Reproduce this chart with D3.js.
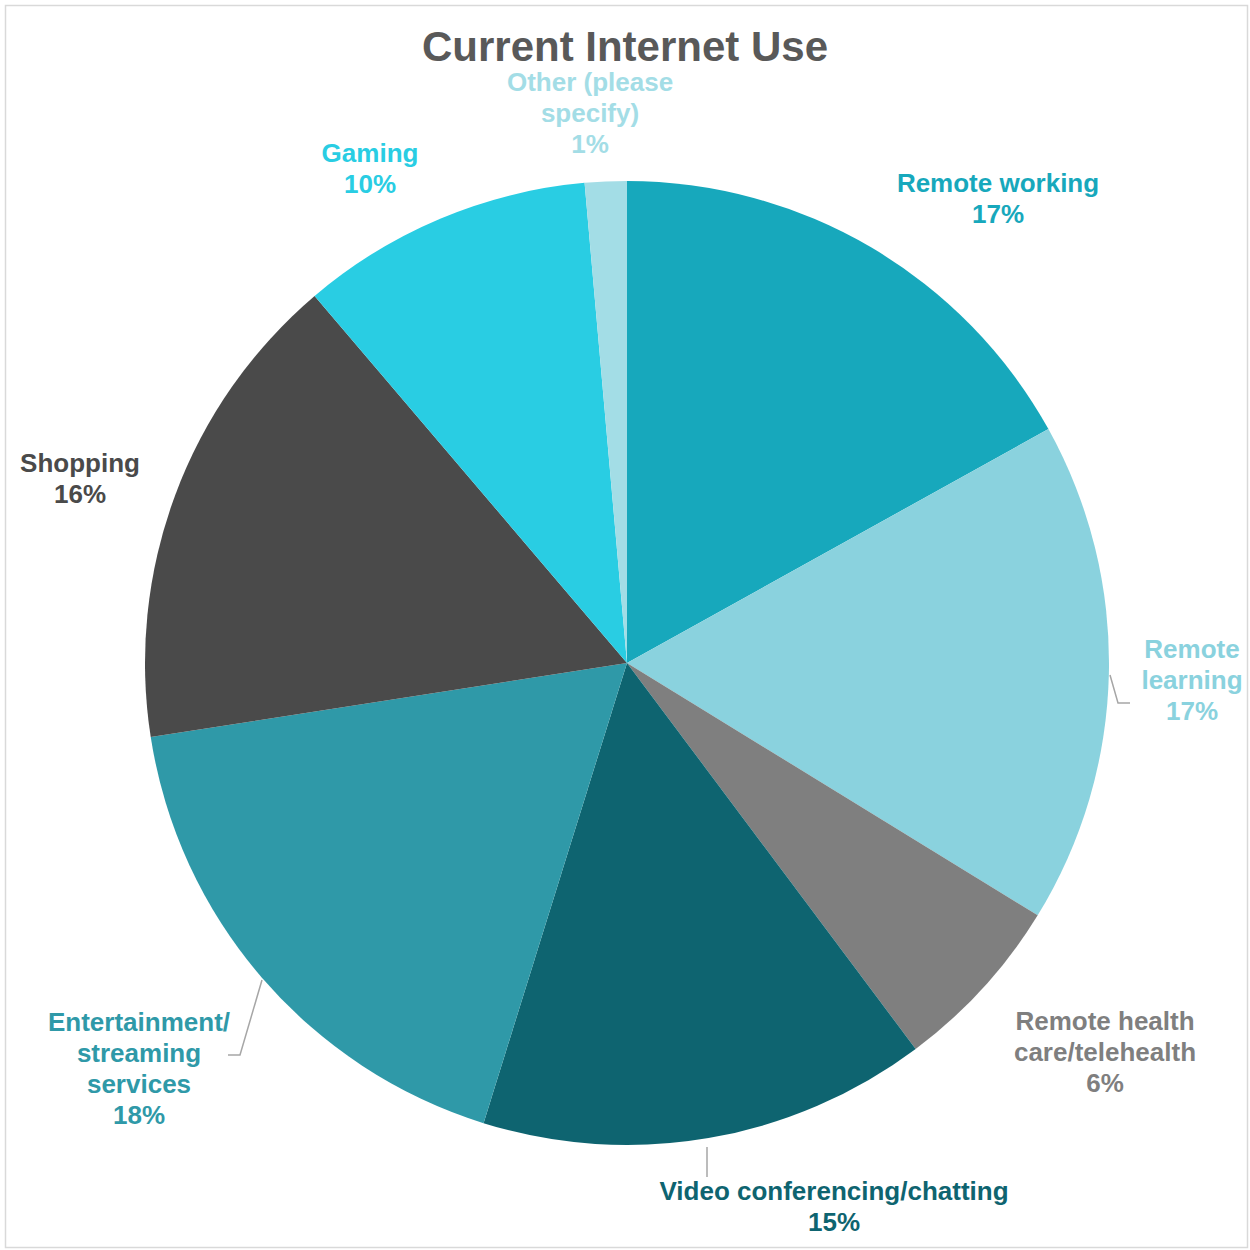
<!DOCTYPE html>
<html>
<head>
<meta charset="utf-8">
<script src="https://cdn.jsdelivr.net/npm/d3@7"></script>
<style>
  body { margin: 0; background: #fff; }
  text { font-family: "Liberation Sans", Arial, sans-serif; font-weight: bold; }
</style>
</head>
<body>
<svg id="chart"></svg>
<script>
// data (percent of respondents)
const categories = ["Remote working", "Remote learning", "Remote health care/telehealth",
  "Video conferencing/chatting", "Entertainment/ streaming services", "Shopping",
  "Gaming", "Other (please specify)"];
const values = [16.9, 16.8, 6.0, 15.0, 17.7, 16.2, 9.8, 1.4];
const shown = ["17%", "17%", "6%", "15%", "18%", "16%", "10%", "1%"];

// label lines as wrapped in the original
const labelLines = [
  ["Remote working"],
  ["Remote", "learning"],
  ["Remote health", "care/telehealth"],
  ["Video conferencing/chatting"],
  ["Entertainment/", "streaming", "services"],
  ["Shopping"],
  ["Gaming"],
  ["Other (please", "specify)"]
];

const colours = ["#17a8bc", "#8ad2de", "#7f7f7f", "#0e6470", "#2f99a8", "#4a4a4a", "#29cde3", "#a3dde6"];

// set the dimensions
const width = 1250, height = 1250;
const cx = 627, cy = 663, radius = 482;

// label centres (offset from pie centre), first line centre
const labelPos = [[371, -480], [565, -14], [478, 358], [207, 528], [-488, 359], [-547, -200], [-257, -510], [-37, -581]];
const lineH = 31;

const svg = d3.select("#chart")
  .attr("width", width)
  .attr("height", height);

// chart border
svg.append("rect")
  .attr("x", 5.5).attr("y", 5.5)
  .attr("width", 1242).attr("height", 1242)
  .attr("fill", "none")
  .attr("stroke", "#d9d9d9")
  .attr("stroke-width", 1.5);

svg.append("text")
  .attr("x", 625).attr("y", 61)
  .attr("text-anchor", "middle")
  .attr("font-size", 42)
  .attr("fill", "#595959")
  .text("Current Internet Use");

const pie = d3.pie().sort(null).value((d) => d);
const arcs = pie(values);
const arc = d3.arc().innerRadius(0).outerRadius(radius);

const g = svg.append("g").attr("transform", `translate(${cx},${cy})`);

g.selectAll("path")
  .data(arcs)
  .enter()
  .append("path")
  .attr("d", arc)
  .attr("fill", (d, i) => colours[i]);

// leader lines (pie edge -> elbow -> label)
const leaders = [
  [[483, 12], [491, 40], [503, 40]],
  [[80, 484], [80, 514]],
  [[-365, 317], [-387, 392], [-399, 392]]
];
leaders.forEach((pts) => {
  g.append("polyline")
    .attr("points", pts.map((p) => p.join(",")).join(" "))
    .attr("fill", "none")
    .attr("stroke", "#a6a6a6")
    .attr("stroke-width", 1.5);
});

// labels
const labels = g.selectAll("text.lbl")
  .data(arcs)
  .enter()
  .append("text")
  .attr("class", "lbl")
  .attr("text-anchor", "middle")
  .attr("font-size", 26)
  .attr("fill", (d, i) => colours[i]);

labels.each(function (d, i) {
  const lines = labelLines[i].concat([shown[i]]);
  const t = d3.select(this);
  lines.forEach((s, k) => {
    t.append("tspan")
      .attr("x", labelPos[i][0])
      .attr("y", labelPos[i][1] + k * lineH)
      .attr("dy", "0.35em")
      .text(s);
  });
});
</script>
</body>
</html>
